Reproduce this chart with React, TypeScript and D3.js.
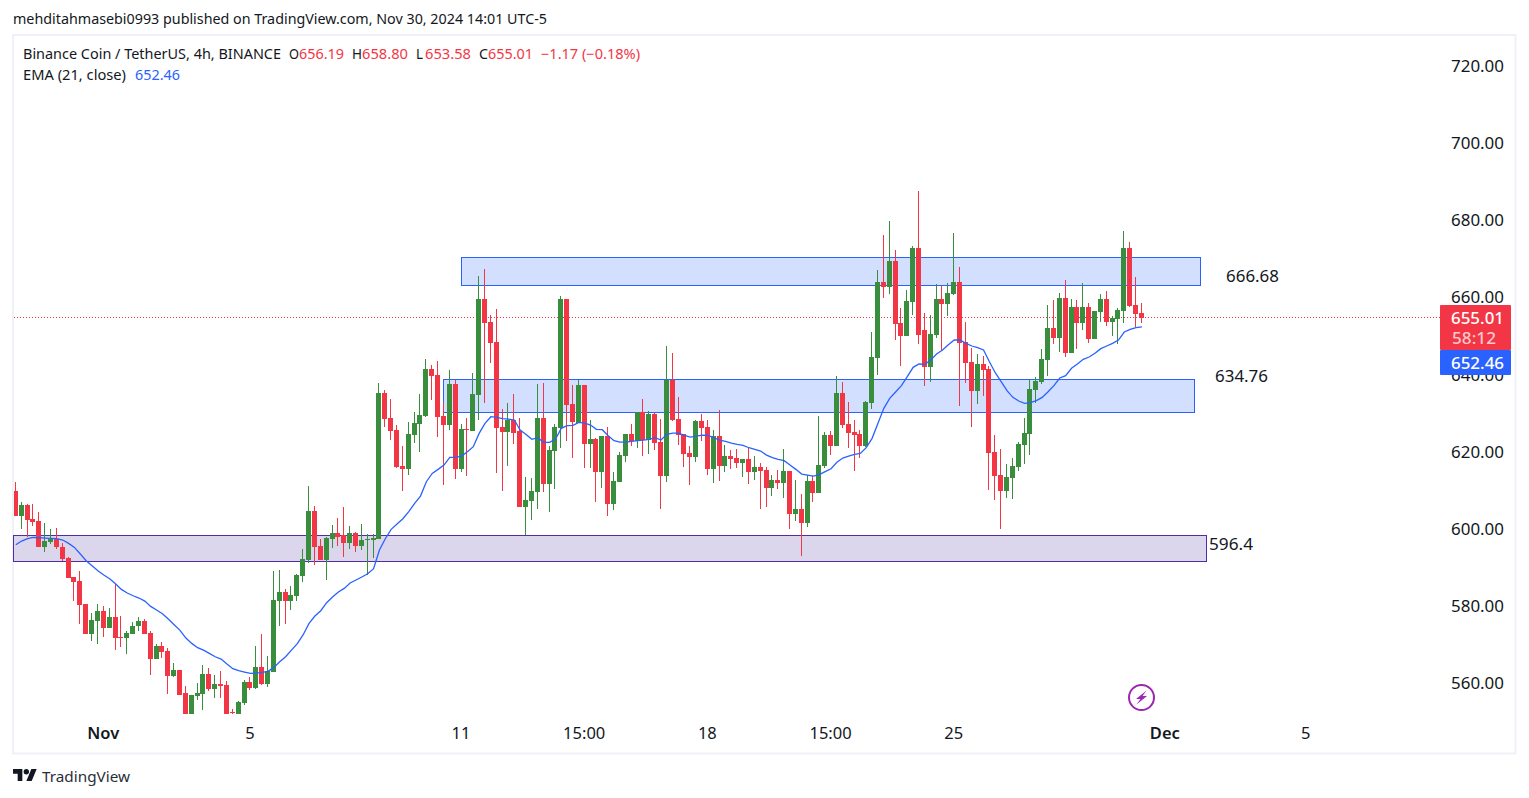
import React, { useEffect, useRef } from 'react';
import * as d3 from 'd3';

// BNB/USDT 4h candles, prices
const opens = [
  609.91, 603.51, 606.28, 602.65, 602.13, 595.39, 596.68, 597.46, 595.39, 592.53, 587.61, 586.57, 580.6, 572.82, 576.2, 578.79, 574.38, 577.23, 572.05, 571.79,
  572.82, 574.9, 576.2, 573.08, 566.34, 569.71, 568.41, 561.93, 563.49, 557.52, 552.08, 556.74, 557.26, 562.45, 558.56, 559.86, 559.6, 552.59, 552.08, 554.93,
  560.37, 558.82, 564.26, 559.86, 562.97, 581.38, 583.72, 581.38, 582.68, 587.87, 592.01, 604.72, 595.65, 592.01, 597.46, 599.02, 598.5, 596.42, 599.02, 595.65,
  597.2, 597.2, 597.46, 635.32, 628.84, 625.73, 616.39, 615.61, 624.43, 627.28, 629.36, 641.55, 639.99, 629.36, 627.02, 637.66, 615.61, 625.99, 625.47, 634.8,
  659.7, 653.74, 648.55, 626.51, 625.21, 628.32, 625.47, 605.76, 607.31, 609.65, 628.84, 611.72, 620.28, 626.25, 659.7, 632.47, 627.54, 637.4, 622.1, 623.39,
  614.83, 624.17, 606.54, 612.24, 618.98, 624.69, 622.87, 630.4, 623.13, 629.88, 622.62, 613.8, 638.69, 628.58, 624.69, 619.76, 618.72, 628.06, 626.51, 615.61,
  624.17, 616.39, 618.98, 618.47, 617.17, 618.21, 614.83, 616.13, 615.35, 610.69, 612.76, 611.99, 615.1, 603.95, 605.24, 601.61, 612.51, 609.39, 616.4, 624.44,
  621.58, 635.33, 627.29, 625.21, 624.7, 621.58, 632.73, 644.41, 664.12, 662.82, 669.56, 653.48, 650.11, 658.93, 672.93, 651.67, 642.07, 650.37, 659.71, 658.41,
  661.0, 664.12, 648.56, 643.37, 635.85, 642.85, 641.55, 620.03, 614.06, 609.91, 613.28, 616.14, 621.84, 624.7, 636.11, 638.18, 643.89, 652.19, 649.59, 659.97,
  645.7, 657.63, 653.48, 657.63, 649.33, 656.34, 659.71, 653.74, 654.52, 656.6, 672.93, 658.15, 656.19,
];
const closes = [
  603.51, 606.28, 602.48, 601.87, 595.39, 596.94, 597.55, 595.39, 592.27, 587.35, 586.31, 580.34, 572.82, 576.45, 578.79, 574.38, 577.23, 571.79, 571.79, 573.08,
  574.9, 576.2, 572.82, 566.34, 569.71, 568.15, 561.93, 563.49, 557.0, 552.08, 557.0, 557.52, 562.45, 558.56, 559.86, 559.34, 552.08, 552.33, 555.19, 560.37,
  558.82, 564.26, 559.86, 563.23, 581.64, 583.72, 581.38, 582.94, 588.12, 592.27, 604.72, 595.39, 592.01, 597.72, 599.02, 598.07, 596.42, 599.02, 595.65, 597.2,
  597.46, 597.72, 635.32, 628.58, 625.47, 616.13, 615.61, 624.69, 627.54, 629.62, 641.55, 639.73, 629.1, 627.02, 637.66, 615.61, 625.99, 625.73, 635.06, 659.7,
  653.48, 648.29, 626.25, 625.21, 628.32, 624.95, 605.76, 607.57, 609.91, 628.84, 611.72, 620.54, 626.51, 659.7, 632.21, 627.8, 637.4, 622.1, 623.39, 614.83,
  624.17, 606.54, 612.5, 619.24, 624.69, 622.87, 630.4, 623.13, 629.88, 622.36, 613.8, 638.69, 628.32, 624.43, 619.5, 618.72, 628.06, 626.25, 615.61, 624.17,
  616.39, 618.98, 618.21, 617.17, 618.21, 614.83, 616.13, 615.09, 610.68, 612.76, 611.99, 615.1, 603.95, 605.24, 601.61, 612.51, 609.39, 616.66, 624.44, 621.58,
  635.33, 627.03, 624.95, 624.44, 621.58, 632.99, 644.67, 664.12, 662.82, 669.56, 653.22, 650.11, 659.19, 672.93, 650.37, 642.07, 650.63, 659.71, 658.41, 661.26,
  664.12, 648.3, 643.11, 635.85, 642.85, 641.29, 619.77, 613.8, 609.91, 613.54, 616.4, 622.1, 624.95, 636.37, 638.44, 644.15, 652.19, 649.59, 659.97, 645.7,
  657.63, 653.48, 657.63, 649.33, 656.6, 659.71, 653.74, 654.78, 656.85, 672.93, 657.89, 655.82, 655.01,
];
const highs = [
  612.24, 607.06, 606.54, 606.54, 604.46, 601.61, 600.05, 600.31, 596.42, 592.79, 587.61, 589.16, 580.6, 578.27, 580.6, 580.08, 579.57, 585.79, 577.49, 573.6,
  575.94, 577.23, 576.71, 573.6, 570.23, 570.75, 569.19, 565.3, 563.49, 559.34, 557.0, 560.11, 564.78, 564.01, 562.19, 563.23, 560.63, 553.37, 555.45, 560.89,
  561.67, 569.71, 572.82, 567.12, 589.16, 589.42, 584.49, 585.27, 588.38, 594.87, 611.21, 606.02, 597.46, 598.07, 601.09, 602.91, 605.76, 600.83, 599.28, 601.35,
  598.76, 598.76, 637.92, 636.1, 633.77, 627.02, 621.58, 627.8, 630.4, 635.06, 644.14, 642.58, 643.62, 632.73, 641.29, 638.69, 627.28, 628.84, 640.51, 665.67,
  667.48, 655.55, 657.11, 631.17, 632.73, 635.06, 628.84, 613.54, 613.28, 637.66, 637.92, 621.58, 627.28, 660.48, 659.7, 637.4, 638.69, 637.4, 628.32, 623.65,
  624.17, 626.51, 614.83, 620.02, 624.69, 627.28, 630.4, 633.77, 630.66, 630.14, 628.58, 647.51, 645.7, 634.29, 624.69, 621.58, 628.32, 629.88, 628.32, 625.73,
  630.91, 621.84, 620.54, 620.8, 618.21, 621.32, 618.98, 617.17, 616.13, 614.06, 615.36, 620.8, 615.1, 612.76, 609.13, 614.06, 613.8, 629.36, 625.21, 625.47,
  639.74, 638.18, 632.99, 628.33, 625.73, 633.25, 651.15, 667.23, 676.31, 679.94, 672.42, 657.37, 662.04, 673.45, 687.72, 656.08, 655.56, 663.6, 663.08, 663.86,
  676.82, 668.01, 653.74, 647.0, 645.44, 644.92, 642.33, 624.44, 620.8, 616.91, 618.47, 622.62, 628.84, 638.96, 639.48, 646.74, 658.15, 659.45, 661.26, 664.63,
  659.71, 659.45, 663.86, 658.67, 656.6, 661.0, 661.78, 655.3, 657.37, 677.34, 674.49, 665.41, 658.8,
];
const lows = [
  603.51, 600.05, 598.07, 600.92, 595.39, 594.09, 596.16, 594.87, 591.76, 587.35, 581.38, 575.42, 572.82, 571.01, 570.23, 572.05, 574.38, 568.67, 569.45, 567.64,
  572.82, 573.6, 572.82, 562.19, 566.34, 566.6, 557.26, 561.67, 557.0, 552.08, 552.08, 555.71, 553.11, 558.04, 556.22, 556.22, 552.08, 552.08, 552.08, 554.41,
  558.3, 558.56, 559.6, 559.08, 562.97, 574.9, 575.42, 579.05, 581.38, 586.31, 591.24, 590.72, 592.01, 586.83, 595.13, 595.65, 592.79, 594.87, 594.09, 594.61,
  588.12, 592.53, 597.46, 626.51, 623.13, 615.87, 609.91, 614.06, 622.36, 620.02, 629.1, 633.51, 623.91, 611.46, 625.73, 613.02, 614.83, 613.8, 625.47, 628.32,
  632.73, 643.1, 614.57, 609.91, 616.39, 622.1, 605.76, 598.5, 602.39, 605.24, 609.65, 604.46, 610.43, 621.06, 622.87, 618.47, 627.54, 615.87, 615.87, 607.05,
  610.68, 603.42, 604.98, 612.24, 617.43, 621.58, 621.06, 618.98, 619.5, 620.54, 605.24, 612.24, 628.06, 621.84, 616.13, 611.46, 617.43, 622.87, 614.06, 611.98,
  612.5, 614.83, 615.61, 615.87, 613.54, 611.72, 612.76, 605.24, 605.76, 608.62, 610.43, 608.1, 600.06, 602.13, 593.05, 600.58, 607.06, 609.39, 615.88, 619.25,
  621.58, 626.25, 621.06, 615.1, 618.47, 621.32, 631.18, 640.0, 659.97, 661.0, 649.07, 642.33, 650.11, 655.56, 648.04, 637.14, 638.18, 649.59, 646.48, 655.3,
  660.75, 631.96, 637.92, 626.51, 632.48, 634.55, 610.17, 607.58, 600.06, 608.1, 607.84, 615.1, 616.91, 619.25, 632.73, 637.66, 639.74, 648.04, 645.96, 644.67,
  645.7, 646.74, 651.67, 648.3, 649.33, 653.74, 652.7, 650.11, 648.04, 653.48, 657.63, 652.45, 653.58,
];
const emaValues = [
  595.99, 596.94, 597.55, 597.89, 597.81, 597.72, 597.63, 597.55, 597.2, 596.34, 595.3, 593.57, 591.84, 590.55, 589.25, 588.12, 587.17, 585.88, 584.41, 583.46,
  582.76, 582.16, 581.38, 580.0, 579.05, 578.1, 576.71, 575.24, 573.77, 571.79, 570.4, 569.28, 568.67, 567.81, 566.94, 566.34, 565.04, 563.83, 563.31, 562.97,
  562.62, 562.71, 562.88, 563.14, 564.18, 565.65, 566.94, 568.67, 570.32, 572.65, 575.59, 577.49, 578.87, 580.95, 582.42, 583.72, 584.67, 586.05, 586.83, 587.61,
  588.47, 589.77, 594.61, 597.54, 599.97, 601.35, 602.73, 604.55, 606.71, 608.61, 612.33, 614.49, 615.53, 616.65, 618.64, 618.64, 618.98, 620.11, 621.4, 624.86,
  627.46, 629.18, 629.01, 628.67, 628.58, 628.32, 625.73, 624.6, 623.31, 623.74, 622.53, 622.53, 623.31, 626.16, 626.85, 626.94, 627.72, 627.54, 627.02, 625.9,
  625.81, 624.26, 622.96, 622.61, 622.61, 622.79, 622.96, 623.13, 623.31, 623.74, 623.13, 624.6, 624.95, 624.95, 624.34, 623.91, 624.17, 624.43, 624.34, 623.74,
  623.13, 622.79, 622.36, 622.01, 621.75, 621.14, 620.71, 620.28, 619.24, 618.56, 618.12, 617.78, 616.66, 615.53, 614.32, 614.06, 613.8, 614.15, 614.93, 615.7,
  617.35, 618.47, 618.99, 619.42, 619.68, 621.15, 623.57, 627.46, 631.35, 633.95, 635.59, 637.23, 639.56, 641.99, 642.85, 642.76, 643.89, 645.44, 646.48, 647.86,
  649.07, 649.07, 648.21, 647.52, 647.09, 646.48, 643.45, 640.6, 638.27, 635.93, 634.2, 633.25, 632.65, 632.82, 633.34, 634.2, 635.67, 637.23, 639.22, 639.82,
  641.73, 642.85, 644.06, 644.66, 645.62, 646.83, 647.52, 648.21, 649.07, 651.15, 651.84, 652.27, 652.46,
];

const priceTicks = [560, 580, 600, 620, 640, 660, 680, 700, 720];
// candle number under each time label
const timeTicks = [
  { bar: 16, label: 'Nov', major: true },
  { bar: 41, label: '5', major: false },
  { bar: 77, label: '11', major: false },
  { bar: 98, label: '15:00', major: false },
  { bar: 119, label: '18', major: false },
  { bar: 140, label: '15:00', major: false },
  { bar: 161, label: '25', major: false },
  { bar: 197, label: 'Dec', major: true },
  { bar: 221, label: '5', major: false },
];
const zones = [
  { from: 77, to: 203, top: 670.51, bottom: 663.25, label: '666.68', labelPrice: 665.67, stroke: '#2962ff', fill: '#d2dffe', labelX: 1226, labelW: 53 },
  { from: 73.9, to: 202, top: 638.87, bottom: 630.31, label: '634.76', labelPrice: 639.74, stroke: '#2962ff', fill: '#d2dffe', labelX: 1215, labelW: 53 },
  { from: 0.66, to: 204.06, top: 598.41, bottom: 591.67, label: '596.4', labelPrice: 596.16, stroke: '#4f2ea3', fill: '#dcd6ed', labelX: 1209, labelW: 44 },
];
const lastClose = 655.01;
const lastEma = 652.46;

const UP = '#388e3c';
const DOWN = '#f23645';
const BLUE = '#2962ff';
const INK = '#131722';
const FONT = "'Noto Sans', sans-serif";

const App = () => {
  const ref = useRef<SVGSVGElement | null>(null);

  useEffect(() => {
    if (!ref.current) return;
    const svg = d3.select(ref.current);
    svg.selectAll('*').remove();

    const x = d3.scaleLinear().domain([1, 193]).range([15.3, 1141.4]);
    const y = d3.scaleLinear().domain([560, 720]).range([683.5, 66.5]);
    const px = (i: number) => Math.floor(x(i));

    // text squeezed or stretched to the width it has in the reference
    const put = (text: string, tx: number, ty: number, w: number, fill: string, size = 14, weight = 400) => {
      svg.append('text')
        .attr('x', tx).attr('y', ty)
        .attr('textLength', w).attr('lengthAdjust', 'spacingAndGlyphs')
        .attr('font-family', FONT).attr('font-size', size).attr('font-weight', weight).attr('fill', fill)
        .text(text);
    };

    svg.append('rect').attr('width', 1529).attr('height', 798).attr('fill', '#fff');

    // panel frame
    svg.append('rect')
      .attr('x', 13).attr('y', 35).attr('width', 1502.5).attr('height', 718.5)
      .attr('fill', 'none').attr('stroke', '#eff1f7').attr('stroke-width', 2);

    const defs = svg.append('defs');
    defs.append('clipPath').attr('id', 'pane')
      .append('rect').attr('x', 14).attr('y', 36).attr('width', 1426).attr('height', 678);

    // zones sit under the candles
    const zoneG = svg.append('g').attr('shape-rendering', 'crispEdges');
    zones.forEach(z => {
      zoneG.append('rect')
        .attr('x', Math.round(x(z.from)) + 0.5)
        .attr('y', Math.round(y(z.top)) + 0.5)
        .attr('width', Math.round(x(z.to) - x(z.from)))
        .attr('height', Math.round(y(z.bottom) - y(z.top)))
        .attr('fill', z.fill)
        .attr('stroke', z.stroke)
        .attr('stroke-width', 1);
      put(z.label, z.labelX, y(z.labelPrice) + 6, z.labelW, INK, 16.5);
    });

    // last price line
    svg.append('line')
      .attr('x1', 14).attr('x2', 1440)
      .attr('y1', Math.round(y(lastClose)) + 0.5).attr('y2', Math.round(y(lastClose)) + 0.5)
      .attr('stroke', DOWN).attr('stroke-width', 1).attr('stroke-dasharray', '1 2');

    const pane = svg.append('g').attr('clip-path', 'url(#pane)');
    const candles = pane.selectAll('g.c')
      .data(opens.map((o, i) => ({ i: i + 1, o, c: closes[i], h: highs[i], l: lows[i] })))
      .enter().append('g').attr('shape-rendering', 'crispEdges')
      .attr('fill', d => (d.c >= d.o ? UP : DOWN));
    candles.append('rect')
      .attr('x', d => px(d.i)).attr('width', 1)
      .attr('y', d => y(d.h)).attr('height', d => y(d.l) - y(d.h));
    candles.append('rect')
      .attr('x', d => px(d.i) - 2).attr('width', 5)
      .attr('y', d => Math.round(y(Math.max(d.o, d.c))))
      .attr('height', d => Math.max(1, Math.round(Math.abs(y(d.o) - y(d.c)))));

    // EMA 21
    const line = d3.line<number>().x((_, i) => x(i + 1) + 0.5).y(d => y(d));
    pane.append('path')
      .attr('d', line(emaValues))
      .attr('fill', 'none').attr('stroke', BLUE).attr('stroke-width', 1.3);

    // price axis
    priceTicks.forEach(p => {
      put(p.toFixed(2), 1451, y(p) + 5.5, 53, INK, 16.5);
    });

    // last price and EMA labels
    svg.append('rect').attr('x', 1440).attr('y', 305).attr('width', 71).attr('height', 45).attr('fill', DOWN).attr('rx', 1);
    svg.append('rect').attr('x', 1440).attr('y', 350).attr('width', 71).attr('height', 25).attr('fill', BLUE).attr('rx', 1);
    put(lastClose.toFixed(2), 1451, y(lastClose) + 6.5, 53, '#fff', 16.5, 500);
    put('58:12', 1452, 344, 44, '#fcc8cd', 16.5, 500);
    put(lastEma.toFixed(2), 1451, 369, 53, '#fff', 16.5, 500);

    // time axis
    timeTicks.forEach(t => {
      svg.append('text')
        .attr('x', x(t.bar)).attr('y', 739)
        .attr('text-anchor', 'middle')
        .attr('font-family', FONT).attr('font-size', 16.5)
        .attr('font-weight', t.major ? 600 : 400)
        .attr('fill', INK)
        .text(t.label);
    });

    // header and legend
    put('mehditahmasebi0993 published on TradingView.com, Nov 30, 2024 14:01 UTC-5', 13, 24, 534, INK);
    put('Binance Coin / TetherUS, 4h, BINANCE', 23, 59, 258, INK);
    put('O', 289, 59, 10, INK);
    put('656.19', 299, 59, 45, DOWN);
    put('H', 352, 59, 10, INK);
    put('658.80', 362, 59, 46, DOWN);
    put('L', 416, 59, 7, INK);
    put('653.58', 425, 59, 46, DOWN);
    put('C', 479, 59, 9, INK);
    put('655.01', 488, 59, 45, DOWN);
    put('\u22121.17 (\u22120.18%)', 541, 59, 99, DOWN);
    put('EMA (21, close)', 23, 80, 103, INK);
    put('652.46', 135, 80, 45, BLUE);

    // flash icon
    const icon = svg.append('g').attr('transform', 'translate(1141.5,697.5)');
    icon.append('circle').attr('r', 12.5).attr('fill', '#fff').attr('stroke', '#9c27b0').attr('stroke-width', 2);
    icon.append('path').attr('d', 'M5,-7 L-5.5,1.5 L-1,1.5 L-5,7 L5.5,-1.5 L1,-1.5 Z').attr('fill', '#9c27b0');

    // TradingView logo
    const logo = svg.append('g').attr('transform', 'translate(13,766.4) scale(0.667)').attr('fill', INK);
    logo.append('path').attr('d', 'M14 22H7V11H0V4h14v18zM28 22h-8l7.5-18h8L28 22z');
    logo.append('circle').attr('cx', 20).attr('cy', 8).attr('r', 4);
    put('TradingView', 42, 782, 88, '#2a2e39', 15);
  }, []);

  return <svg ref={ref} width={1529} height={798} style={{ position: 'absolute', top: 0, left: 0, display: 'block' }} />;
};

export default App;
